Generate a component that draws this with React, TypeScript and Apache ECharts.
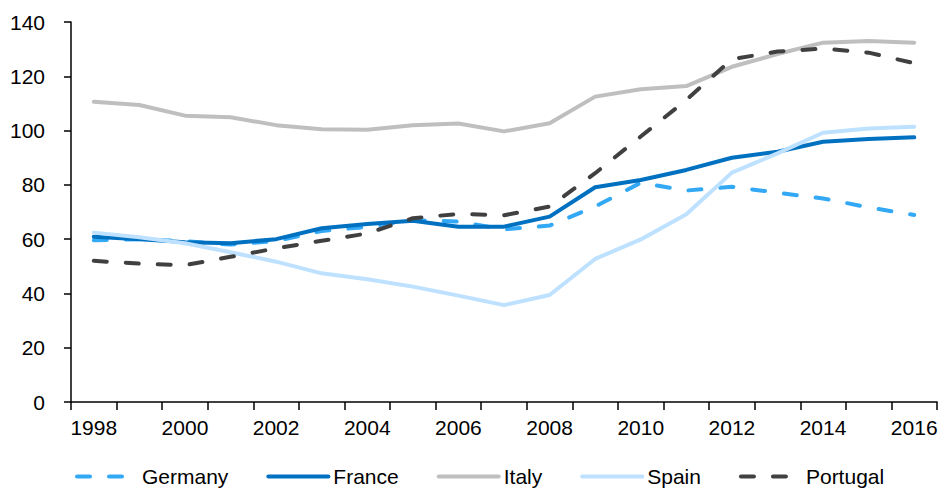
import React, { useEffect, useRef } from "react";
import * as echarts from "echarts";

const years = ["1998","1999","2000","2001","2002","2003","2004","2005","2006","2007","2008","2009","2010","2011","2012","2013","2014","2015","2016"];
const germany = [59.6, 60.0, 59.3, 58.0, 59.3, 63.0, 64.5, 67.0, 66.5, 63.6, 65.0, 72.0, 80.8, 77.9, 79.3, 77.1, 75.0, 71.7, 68.9];
const france = [60.9, 60.0, 58.9, 58.5, 60.0, 64.0, 65.6, 66.8, 64.6, 64.6, 68.3, 79.1, 81.8, 85.5, 90.0, 92.2, 95.9, 96.9, 97.5];
const italy = [110.6, 109.4, 105.5, 104.9, 102.0, 100.5, 100.3, 102.0, 102.6, 99.7, 102.7, 112.5, 115.2, 116.4, 123.5, 128.2, 132.4, 133.0, 132.4];
const spain = [62.4, 60.7, 58.5, 55.2, 51.7, 47.4, 45.2, 42.5, 39.2, 35.7, 39.4, 52.7, 59.9, 69.2, 84.5, 91.6, 99.2, 100.8, 101.4];
const portugal = [52.0, 51.0, 50.4, 53.5, 56.6, 59.4, 62.1, 67.7, 69.3, 68.8, 72.0, 84.3, 97.8, 111.3, 126.3, 129.1, 130.2, 128.7, 124.8];

const FONT = "Liberation Sans, Arial, sans-serif";

function mkSeries(name: string, data: number[], color: string, dashed: boolean) {
  return {
    name,
    type: "line",
    data,
    symbol: "none",
    lineStyle: {
      color,
      width: 4,
      type: dashed ? [13, 19] : "solid",
      cap: "round",
      join: "round",
    },
    itemStyle: { color },
  };
}

export default function App() {
  const ref = useRef<HTMLDivElement>(null);
  useEffect(() => {
    if (!ref.current) return;
    const chart = echarts.init(ref.current, undefined, { renderer: "svg" });
    chart.setOption({
      animation: false,
      backgroundColor: "#ffffff",
      textStyle: { fontFamily: FONT },
      grid: { left: 71, right: 4, top: 22, bottom: 87, containLabel: false },
      legend: {
        left: 75,
        top: 466,
        padding: 0,
        itemWidth: 60,
        itemHeight: 20,
        itemGap: 38,
        itemStyle: { opacity: 0 },
        lineStyle: { width: 4, cap: "round" },
        textStyle: { fontSize: 21, color: "#000", fontFamily: FONT },
        data: ["Germany", "France", "Italy", "Spain", "Portugal"],
      },
      xAxis: {
        type: "category",
        data: years,
        boundaryGap: true,
        axisLine: { lineStyle: { color: "#000", width: 1.5 } },
        axisTick: { show: true, interval: 0, length: 8, lineStyle: { color: "#000", width: 1.5 } },
        axisLabel: { interval: 1, margin: 15, fontSize: 21, color: "#000", fontFamily: FONT },
        splitLine: { show: false },
      },
      yAxis: {
        type: "value",
        min: 0,
        max: 140,
        interval: 20,
        axisLine: { show: true, lineStyle: { color: "#000", width: 1.5 } },
        axisTick: { show: true, length: 7, lineStyle: { color: "#000", width: 1.5 } },
        axisLabel: { margin: 26, fontSize: 21, color: "#000", fontFamily: FONT },
        splitLine: { show: false },
      },
      series: [
        mkSeries("Germany", germany, "#33A8F5", true),
        mkSeries("France", france, "#0070C0", false),
        mkSeries("Italy", italy, "#BFBFBF", false),
        mkSeries("Spain", spain, "#BDE1FF", false),
        mkSeries("Portugal", portugal, "#404040", true),
      ],
    });
    return () => chart.dispose();
  }, []);
  return <div ref={ref} style={{ position: "fixed", left: 0, top: 0, width: 941, height: 489 }} />;
}
